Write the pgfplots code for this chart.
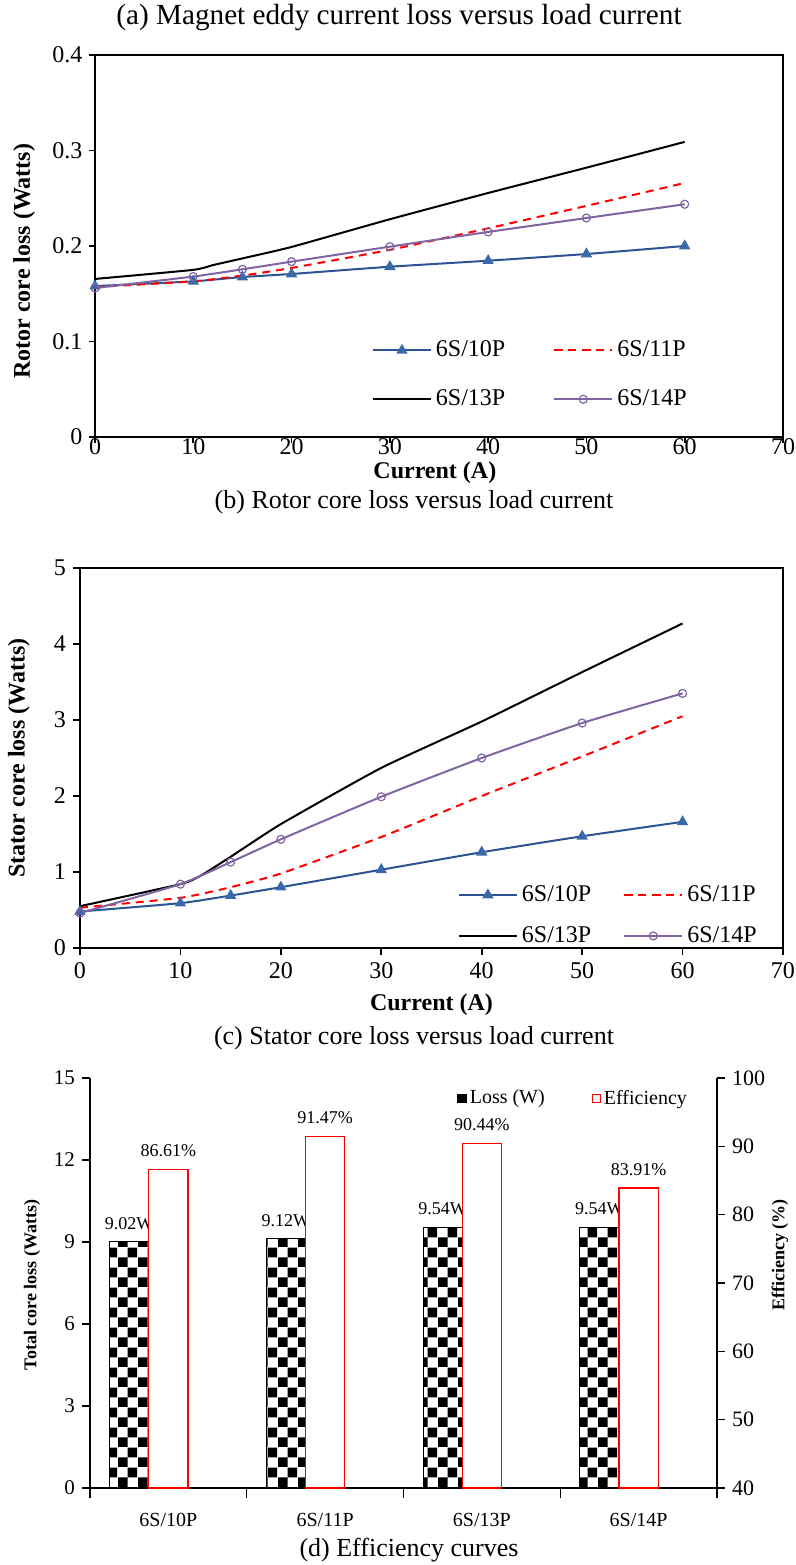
\documentclass[border=0pt]{standalone}
\usepackage{fontspec}
\setmainfont{Liberation Serif}
\usepackage{pgfplots}
\pgfplotsset{compat=1.18}
\usetikzlibrary{patterns.meta}
\definecolor{c10}{RGB}{44,84,146}
\definecolor{c10m}{RGB}{58,105,170}
\definecolor{c14}{RGB}{128,100,162}
\pgfdeclarepattern{name=bigchecker, type=uncolored, bottom left={\pgfpointorigin}, top right={\pgfpoint{9.8pt}{9.8pt}}, tile size={\pgfpoint{9.8pt}{9.8pt}}, code={\pgfpathrectangle{\pgfpointorigin}{\pgfpoint{4.9pt}{4.9pt}}\pgfpathrectangle{\pgfpoint{4.9pt}{4.9pt}}{\pgfpoint{4.9pt}{4.9pt}}\pgfusepath{fill}}}
\pgfplotsset{
  lossplot/.style={
    scale only axis,
    axis line style={line width=1pt},
    every tick/.style={line width=0.8pt, black},
    tick align=outside, xtick pos=bottom, ytick pos=left,
    major tick length=3.5pt,
    ticklabel style={font=\fontsize{12}{12}\selectfont},
    /pgf/number format/assume math mode=true,
    xmin=0, xmax=70, xtick={0,10,20,30,40,50,60,70},
    label style={font=\bfseries\fontsize{12}{12}\selectfont},
    legend cell align=left,
    legend image code/.code={\draw[mark repeat=2,mark phase=2] plot coordinates {(0pt,0pt) (14.5pt,0pt) (29pt,0pt)};},
    s10/.style={color=c10, line width=1pt, mark=triangle*, mark size=2.3pt, mark options={fill=c10m, draw=c10m, solid}},
    s11/.style={color=red, line width=1pt, dashed, dash pattern=on 4pt off 3pt, no markers},
    s13/.style={color=black, line width=1pt, no markers},
    s14/.style={color=c14, line width=1pt, mark=o, mark size=2pt, mark options={solid, line width=0.6pt}},
  }
}
\begin{document}
\begin{tikzpicture}
\useasboundingbox (0,0) rectangle (398pt,782.5pt);
% captions
\node[font=\fontsize{14.6}{14.6}\selectfont] at (199.5pt,773.5pt) {(a) Magnet eddy current loss versus load current};
\node[font=\fontsize{13}{13}\selectfont] at (207pt,531.5pt) {(b) Rotor core loss versus load current};
\node[font=\fontsize{13}{13}\selectfont] at (207pt,263.5pt) {(c) Stator core loss versus load current};
\node[font=\fontsize{13}{13}\selectfont] at (204.5pt,7.5pt) {(d) Efficiency curves};

% Panel 1
\begin{axis}[lossplot, at={(47.5pt,564pt)}, anchor=south west, width=344pt, height=191pt,
  ymin=0, ymax=0.4, ytick={0,0.1,0.2,0.3,0.4},
  major tick length=2.8pt,
  yticklabel style={/pgf/number format/fixed, /pgf/number format/precision=1},
  xticklabel style={yshift=5.5pt},
  xlabel={Current (A)}, ylabel={Rotor core loss (Watts)},
  xlabel style={at={(axis description cs:0.494,-0.094)}, anchor=center},
  ylabel style={at={(axis description cs:-0.103,0.46)}, anchor=center},
  legend columns=2,
  legend style={draw=none, fill=none, font=\fontsize{12}{12}\selectfont, at={(axis description cs:0.402,0.263)}, anchor=north west,
    /tikz/every even column/.append style={column sep=22pt}, row sep=11pt, inner sep=0pt},
]
\addplot[s10, smooth, tension=0.3] coordinates {(0,0.158) (10,0.163) (15,0.1675) (20,0.1707) (30,0.1783) (40,0.1846) (50,0.1916) (60,0.2)};
\addlegendentry{6S/10P}
\addplot[s11, smooth, tension=0.3] coordinates {(0,0.157) (10,0.163) (15,0.169) (20,0.177) (30,0.196) (40,0.2185) (50,0.242) (60,0.266)};
\addlegendentry{6S/11P}
\addplot[s13, smooth, tension=0.3] coordinates {(0,0.1655) (10,0.175) (12,0.18) (15,0.187) (20,0.199) (30,0.228) (40,0.2555) (50,0.282) (60,0.309)};
\addlegendentry{6S/13P}
\addplot[s14, smooth, tension=0.3] coordinates {(0,0.156) (10,0.168) (15,0.1756) (20,0.1836) (30,0.1993) (40,0.2147) (50,0.2293) (60,0.2437)};
\addlegendentry{6S/14P}
\end{axis}

% Panel 2
\begin{axis}[lossplot, at={(40pt,308.5pt)}, anchor=south west, width=351.5pt, height=190pt,
  ymin=0, ymax=5, ytick={0,1,2,3,4,5},
  xlabel={Current (A)}, ylabel={Stator core loss (Watts)},
  xlabel style={at={(axis description cs:0.5,-0.15)}, anchor=center},
  ylabel style={at={(axis description cs:-0.087,0.5)}, anchor=center},
  legend columns=2,
  legend style={draw=none, fill=none, font=\fontsize{12}{12}\selectfont, at={(axis description cs:0.537,0.176)}, anchor=north west,
    /tikz/every even column/.append style={column sep=14pt}, row sep=7pt, inner sep=0pt},
]
\addplot[s10, smooth, tension=0.3] coordinates {(0,0.48) (10,0.59) (15,0.69) (20,0.80) (30,1.03) (40,1.26) (50,1.47) (60,1.66)};
\addlegendentry{6S/10P}
\addplot[s11, smooth, tension=0.3] coordinates {(0,0.53) (10,0.66) (15,0.80) (20,0.98) (30,1.46) (40,2.0) (50,2.52) (60,3.05)};
\addlegendentry{6S/11P}
\addplot[s13, smooth, tension=0.3] coordinates {(0,0.55) (10,0.84) (12,0.95) (15,1.2) (20,1.63) (30,2.37) (40,2.98) (50,3.63) (60,4.27)};
\addlegendentry{6S/13P}
\addplot[s14, smooth, tension=0.3] coordinates {(0,0.46) (10,0.84) (15,1.13) (20,1.43) (30,1.99) (40,2.5) (50,2.96) (60,3.35)};
\addlegendentry{6S/14P}
\end{axis}

% Panel 3 primary
\begin{axis}[scale only axis, at={(45pt,38.5pt)}, anchor=south west, width=313.5pt, height=205pt,
  xmin=-0.5, xmax=3.5, ymin=0, ymax=15, ytick={0,3,6,9,12,15},
  axis y line*=left, axis x line*=bottom,
  axis line style={line width=0.6pt, -},
  every tick/.style={line width=0.6pt, black},
  tick align=outside,
  xtick={0,1,2,3}, xticklabels={6S/10P,6S/11P,6S/13P,6S/14P},
  major x tick style={draw=none},
  minor xtick={-0.5,0.5,1.5,2.5,3.5}, minor tick length=5pt, major tick length=4pt,
  ticklabel style={font=\fontsize{10.5}{10.5}\selectfont},
  /pgf/number format/assume math mode=true,
  xticklabel style={yshift=-5pt, font=\fontsize{10}{10}\selectfont},
  ylabel={Total core loss (Watts)},
  ylabel style={font=\bfseries\fontsize{9}{9}\selectfont, at={(axis description cs:-0.0925,0.495)}, anchor=center},
  ybar, bar width=0.25,
  point meta=explicit symbolic,
  nodes near coords, every node near coord/.append style={font=\fontsize{9}{9}\selectfont, yshift=2.5pt},
]
\addplot[draw=black, line width=0.4pt, pattern={bigchecker}, pattern color=black] coordinates {(-0.25,9.02)[9.02W] (0.75,9.12)[9.12W] (1.75,9.54)[9.54W] (2.75,9.54)[9.54W]};
\end{axis}

% Panel 3 secondary
\begin{axis}[scale only axis, at={(45pt,38.5pt)}, anchor=south west, width=313.5pt, height=205pt,
  xmin=-0.5, xmax=3.5, ymin=40, ymax=100, ytick={40,50,60,70,80,90,100},
  axis y line*=right, axis x line=none,
  axis line style={line width=0.6pt, -},
  every tick/.style={line width=0.6pt, black},
  tick align=outside, major tick length=4pt,
  ticklabel style={font=\fontsize{11}{11}\selectfont},
  /pgf/number format/assume math mode=true,
  ylabel={Efficiency (\%)},
  ylabel style={font=\bfseries\fontsize{9}{9}\selectfont, at={(axis description cs:1.1005,0.568)}, anchor=center, rotate=0},
  ybar, bar width=0.25,
  point meta=explicit symbolic,
  nodes near coords, every node near coord/.append style={font=\fontsize{9}{9}\selectfont, yshift=2.5pt},
  legend columns=2,
  legend style={draw=none, fill=none, font=\fontsize{10}{10}\selectfont, at={(axis description cs:0.585,0.95)}, anchor=west,
    /tikz/every even column/.append style={column sep=22pt}, inner sep=0pt,
    nodes={inner xsep=1.5pt}},
  legend image code/.code={\draw[#1] (0pt,-2pt) rectangle (4pt,2pt);},
]
\addlegendimage{draw=black, fill=black, line width=0.8pt}
\addlegendentry{Loss (W)}
\addplot[draw=red, fill=white, line width=0.6pt] coordinates {(0,86.61)[86.61\%] (1,91.47)[91.47\%] (2,90.44)[90.44\%] (3,83.91)[83.91\%]};
\addlegendentry{Efficiency}
\end{axis}
\end{tikzpicture}
\end{document}
